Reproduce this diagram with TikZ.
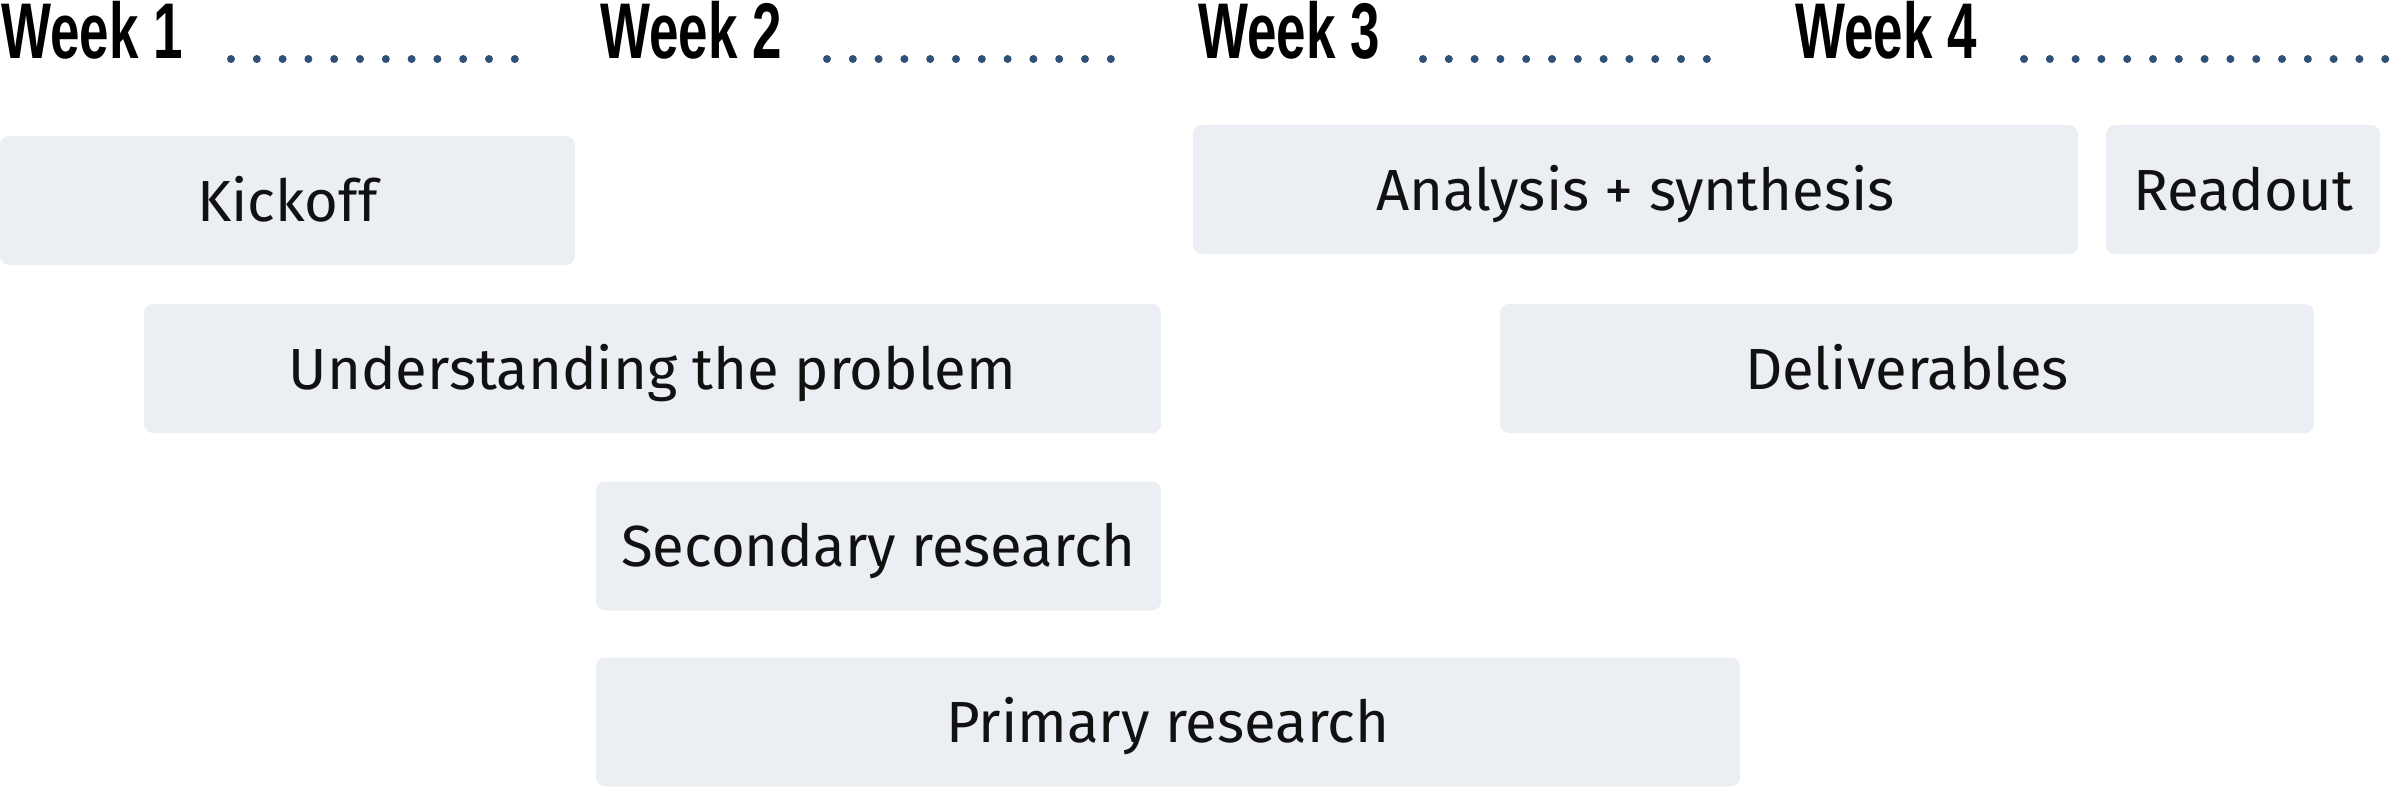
\documentclass[tikz,border=0pt]{standalone}
\usepackage{fontspec}
\usetikzlibrary{positioning}
\newfontfamily\weekfont[FakeStretch=0.67]{Liberation Sans}
\newfontfamily\taskfont{Fira Sans}
\definecolor{boxfill}{HTML}{EBEEF3}
\definecolor{dotblue}{HTML}{2F5178}
\definecolor{ink}{HTML}{111111}

\begin{document}
\begin{tikzpicture}[x=1pt, y=-1pt,
    week/.style={anchor=base west, inner sep=0pt, text=black, font=\weekfont\bfseries\fontsize{79}{79}\selectfont},
    task/.style={fill=boxfill, rounded corners=9pt, inner sep=0pt, minimum height=129pt,
      text height=41pt, text depth=0pt, text=ink, font=\taskfont\fontsize{58}{58}\selectfont}]
      \useasboundingbox (0, 0) rectangle (2398, 787);
      % week headings and dotted rules
      \node (wk1)[week] at (1, 58) {Week 1};
      \node (wk2)[week] at (600, 58) {Week 2};
      \node (wk3)[week] at (1198, 58) {Week 3};
      \node (wk4)[week] at (1795, 58) {Week 4};
      \foreach \x/\k in {231/12, 827/12, 1423/12, 2024/15}
        \foreach \i in {1,...,\k}
          \fill[dotblue] (\x+25.8*\i-25.8, 59) circle (4);
      % tasks
      \node (kickoff)[task, minimum width=575pt] at (287.5, 200.5) {Kickoff};
      \node (analysis)[task, minimum width=885pt] at (1635.5, 189.5) {Analysis + synthesis};
      \node (readout)[task, minimum width=274pt] at (2243, 189.5) {Readout};
      \node (problem)[task, minimum width=1017pt] at (652.5, 368.5) {Understanding the problem};
      \node (deliver)[task, minimum width=814pt] at (1907, 368.5) {Deliverables};
      \node (secondary)[task, minimum width=565pt] at (878.5, 546) {Secondary research};
      \node (primary)[task, minimum width=1144pt] at (1168, 722) {Primary research};
\end{tikzpicture}
\end{document}
